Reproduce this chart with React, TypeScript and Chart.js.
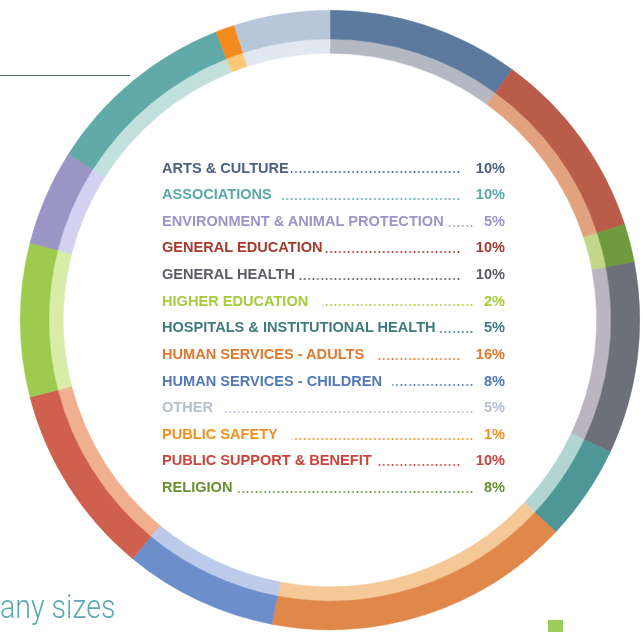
import { useEffect, useRef } from 'react';
import { Chart, registerables } from 'chart.js';

Chart.register(...registerables);

// legend, as printed in the middle of the ring
const legendLabels = [
  'ARTS & CULTURE',
  'ASSOCIATIONS  ',
  'ENVIRONMENT & ANIMAL PROTECTION',
  'GENERAL EDUCATION',
  'GENERAL HEALTH',
  'HIGHER EDUCATION   ',
  'HOSPITALS & INSTITUTIONAL HEALTH',
  'HUMAN SERVICES - ADULTS   ',
  'HUMAN SERVICES - CHILDREN  ',
  'OTHER  ',
  'PUBLIC SAFETY   ',
  'PUBLIC SUPPORT & BENEFIT ',
  'RELIGION ',
];
const legendValues = [10, 10, 5, 10, 10, 2, 5, 16, 8, 5, 1, 10, 8];
const legendColors = [
  '#4b6182', '#5aa9a8', '#9b95c9', '#a53a2c', '#5c5c64', '#a6cb3c', '#3f7b7d',
  '#e0782e', '#5179b9', '#b6bfce', '#f0901f', '#c9443a', '#6a9031',
];

// ring segments, clockwise from 12 o'clock
const ringLabels = [
  'Arts & Culture', 'General Education', 'Higher Education', 'General Health',
  'Hospitals & Institutional Health', 'Human Services - Adults', 'Human Services - Children',
  'Public Support & Benefit', 'Religion', 'Environment & Animal Protection',
  'Associations', 'Public Safety', 'Other',
];
const ringShares = [10, 10, 2, 10, 5, 16, 8, 10, 8, 5, 10, 1, 5];
const ringOuterColors = [
  '#5b7a9d', '#b95c4a', '#6f9a3d', '#6d6f7a', '#4f9696', '#e0874a', '#6c8fcb',
  '#d0604e', '#9ccb4e', '#9b95c6', '#62aaa8', '#f28a1e', '#b8c6da',
];
const ringInnerColors = [
  '#b3b8c2', '#e2a27e', '#c2d888', '#bab5bf', '#b3d5d1', '#f5c898', '#bccbe9',
  '#f0b090', '#d8edaa', '#d4d2f0', '#c2e0dc', '#ffc878', '#e2e8f2',
];

const ROW_H = 26.64;
const SQUEEZE = 0.94; // the printed face is a condensed gothic

function LegendRow({ label, value, color }: { label: string; value: number; color: string }) {
  return (
    <div
      style={{
        position: 'relative',
        height: ROW_H,
        lineHeight: `${ROW_H}px`,
        display: 'flex',
        justifyContent: 'space-between',
        color,
      }}
    >
      <div
        style={{
          position: 'absolute',
          left: 0,
          right: 0,
          top: 15.7,
          height: 4,
          backgroundImage: `radial-gradient(circle, ${color} 0.8px, transparent 1.2px)`,
          backgroundSize: `${4.4 / SQUEEZE}px 4px`,
          backgroundRepeat: 'repeat-x',
        }}
      />
      <span style={{ position: 'relative', background: '#fff', paddingRight: 2, whiteSpace: 'pre' }}>{label}</span>
      <span style={{ position: 'relative', background: '#fff', paddingLeft: value >= 10 ? 16 : 10 }}>
        {value}%
      </span>
    </div>
  );
}

export default function App() {
  const canvasRef = useRef<HTMLCanvasElement>(null);

  useEffect(() => {
    const canvas = canvasRef.current;
    if (!canvas) return;
    const chart = new Chart(canvas, {
      type: 'doughnut',
      data: {
        labels: ringLabels,
        datasets: [
          {
            data: ringShares,
            backgroundColor: ringOuterColors,
            borderColor: ringOuterColors,
            borderWidth: 0.5,
            weight: 2,
          },
          {
            data: ringShares,
            backgroundColor: ringInnerColors,
            borderColor: ringInnerColors,
            borderWidth: 0.5,
            weight: 1,
          },
        ],
      },
      options: {
        responsive: true,
        maintainAspectRatio: false,
        animation: false,
        events: [],
        cutout: '86.1%',
        layout: { padding: { left: 20, top: 10, right: 3, bottom: 2 } },
        plugins: {
          legend: { display: false },
          tooltip: { enabled: false },
        },
      },
    });
    return () => chart.destroy();
  }, []);

  return (
    <div
      style={{
        position: 'fixed',
        left: 0,
        top: 0,
        width: 643,
        height: 632,
        overflow: 'hidden',
        background: '#fff',
      }}
    >
      <div style={{ position: 'absolute', left: 0, top: 0, width: 643, height: 632 }}>
        <canvas ref={canvasRef} />
      </div>
      <div style={{ position: 'absolute', left: 0, top: 74.5, width: 130, height: 1.5, background: '#5b6b8c' }} />
      <div
        style={{
          position: 'absolute',
          left: 162,
          top: 154.6,
          width: 343 / SQUEEZE,
          transform: `scaleX(${SQUEEZE})`,
          transformOrigin: 'left top',
          fontFamily: '"Liberation Sans", Arial, sans-serif',
          fontWeight: 700,
          fontSize: 15.5,
        }}
      >
        {legendLabels.map((l, i) => (
          <LegendRow key={i} label={l} value={legendValues[i]} color={legendColors[i]} />
        ))}
      </div>
      <div
        style={{
          position: 'absolute',
          left: 0,
          top: 586,
          fontFamily: 'Roboto, "Open Sans", sans-serif',
          fontWeight: 300,
          fontSize: 34,
          lineHeight: '40px',
          color: '#5aa9b0',
          whiteSpace: 'nowrap',
          transform: 'scaleX(0.84)',
          transformOrigin: 'left top',
        }}
      >
        any sizes
      </div>
      <div style={{ position: 'absolute', left: 548, top: 620, width: 15, height: 12, background: '#9ccc5a' }} />
    </div>
  );
}
